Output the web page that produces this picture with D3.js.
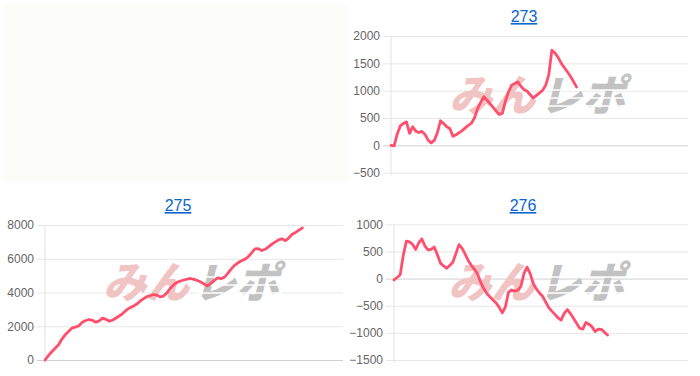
<!DOCTYPE html>
<html>
<head>
<meta charset="utf-8">
<script src="https://cdn.jsdelivr.net/npm/d3@7"></script>
<style>
  body { margin: 0; background: #fff; }
  svg { display: block; font-family: "Liberation Sans", Arial, Helvetica, sans-serif; }
</style>
</head>
<body>
<svg id="chart" width="700" height="376"></svg>
<script>
// ---- data ----
const titles = ["273", "275", "276"];

// number of day slots on each x axis (line stops before the end)
const slots273 = 96;
const slots275 = 88;
const slots276 = 95;

const ticks273 = [-500, 0, 500, 1000, 1500, 2000];
const ticks275 = [0, 2000, 4000, 6000, 8000];
const ticks276 = [-1500, -1000, -500, 0, 500, 1000];

const values273 = [
  0, -10, 205, 355, 400, 430, 220, 340, 260, 235, 255, 200, 95, 45, 90, 235,
  450, 400, 340, 310, 165, 195, 230, 270, 320, 365, 405, 505, 675, 785, 890,
  830, 765, 695, 625, 565, 585, 815, 980, 1100, 1130, 1160, 1080, 1020, 990,
  925, 865, 915, 960, 1005, 1100, 1290, 1740, 1690, 1610, 1505, 1425, 1345,
  1265, 1165, 1065
];

const values275 = [
  0, 260, 490, 700, 900, 1240, 1500, 1700, 1900, 1950, 2030, 2240, 2340, 2400,
  2350, 2240, 2320, 2480, 2410, 2300, 2370, 2490, 2620, 2770, 2950, 3090, 3180,
  3300, 3470, 3620, 3750, 3810, 3880, 3850, 3740, 3790, 3980, 4250, 4450, 4600,
  4680, 4740, 4790, 4830, 4780, 4710, 4620, 4500, 4390, 4540, 4720, 4870, 4820,
  4910, 5130, 5400, 5610, 5760, 5880, 5960, 6120, 6350, 6590, 6600, 6490, 6560,
  6700, 6870, 7000, 7120, 7180, 7070, 7240, 7450, 7560, 7700, 7830
];

const values276 = [
  -25, 20, 70, 430, 690, 675, 630, 535, 660, 730, 600, 530, 540, 580, 445, 285,
  235, 190, 240, 300, 460, 625, 555, 450, 330, 245, 170, 85, -70, -185, -275,
  -335, -395, -450, -530, -630, -520, -250, -210, -230, -215, -145, 95, 210, 90,
  -90, -190, -265, -325, -430, -535, -600, -660, -725, -765, -640, -570, -645,
  -730, -825, -915, -930, -810, -840, -890, -975, -930, -935, -990, -1040
];

// ---- drawing ----
const svg = d3.select("#chart");

// empty top-left panel
svg.append("rect")
  .attr("x", 3).attr("y", 5).attr("width", 346).attr("height", 177)
  .attr("fill", "#fcfcf9");

function drawPanel({ title, values, slots, ticks, left, right, top, bottom, titleX, titleY, markX, markY }) {
  const x = d3.scaleLinear().domain([0, slots]).range([left, right]);
  const y = d3.scaleLinear().domain(d3.extent(ticks)).range([bottom, top]);

  const g = svg.append("g");

  // title (link style)
  g.append("text")
    .attr("x", titleX).attr("y", titleY)
    .attr("text-anchor", "middle")
    .attr("font-size", 16)
    .attr("fill", "#0a66cc")
    .attr("text-decoration", "underline")
    .text(title);

  // grid + y ticks
  const axis = d3.axisLeft(y)
    .tickValues(ticks)
    .tickSize(-(right - left) - 8)
    .tickPadding(3)
    .tickFormat(d3.format("d"));

  const ax = g.append("g")
    .attr("transform", `translate(${left - 8},0)`)
    .call(axis);
  ax.select(".domain").remove();
  ax.selectAll(".tick line")
    .attr("stroke", d => d === 0 ? "#cfcfcf" : "#e7e7e7");
  ax.selectAll(".tick text")
    .attr("fill", "#666")
    .attr("font-size", 12)
    .attr("font-family", "'Liberation Sans', Arial, sans-serif");

  // y axis line
  g.append("line")
    .attr("x1", left).attr("x2", left)
    .attr("y1", top).attr("y2", bottom + 3)
    .attr("stroke", "#e2e2e2");

  // watermark logo
  const wm = g.append("g")
    .attr("transform", `translate(${markX},${markY}) skewX(-14)`)
    .attr("font-family", "'Noto Sans CJK JP', sans-serif")
    .attr("font-weight", 900)
    .attr("font-size", 43);
  wm.append("text")
    .attr("x", -2).attr("y", 15)
    .attr("text-anchor", "end")
    .attr("fill", "#f1c4c4")
    .text("みん");
  wm.append("text")
    .attr("x", 2).attr("y", 15)
    .attr("text-anchor", "start")
    .attr("fill", "#c2c2c2")
    .text("レポ");
  // speed stripes across the grey half
  [-6, 2, 10].forEach(dy => {
    wm.append("line")
      .attr("x1", 4).attr("x2", 90)
      .attr("y1", dy).attr("y2", dy)
      .attr("stroke", "#fff")
      .attr("stroke-width", 1.6);
  });

  // series line
  const line = d3.line()
    .x((d, i) => x(i))
    .y(d => y(d));

  g.append("path")
    .datum(values)
    .attr("d", line)
    .attr("fill", "none")
    .attr("stroke", "#ff4f6d")
    .attr("stroke-width", 2.8)
    .attr("stroke-linejoin", "round")
    .attr("stroke-linecap", "round");
}

drawPanel({
  title: titles[0], values: values273, slots: slots273, ticks: ticks273,
  left: 391, right: 688, top: 36, bottom: 172.7,
  titleX: 524, titleY: 22, markX: 541, markY: 96
});

drawPanel({
  title: titles[1], values: values275, slots: slots275, ticks: ticks275,
  left: 45, right: 343, top: 225, bottom: 360,
  titleX: 178, titleY: 211, markX: 195, markY: 283
});

drawPanel({
  title: titles[2], values: values276, slots: slots276, ticks: ticks276,
  left: 394, right: 688, top: 224.3, bottom: 360,
  titleX: 523, titleY: 211, markX: 540, markY: 283
});
</script>
</body>
</html>
